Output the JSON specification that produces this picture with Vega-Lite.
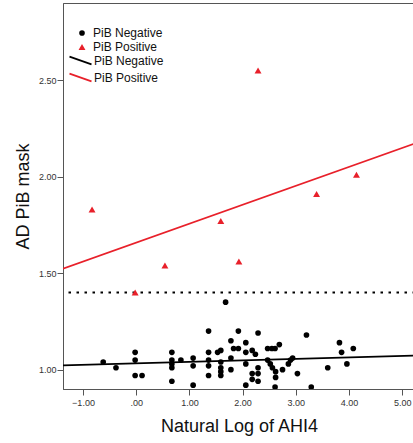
{
  "$schema": "https://vega.github.io/schema/vega-lite/v6.json",
  "width": 352,
  "height": 386,
  "autosize": {"type": "none"},
  "padding": {"left": 63, "top": 3, "right": 0, "bottom": 54},
  "background": "white",
  "config": {
    "font": "Liberation Sans",
    "view": {"stroke": "#555", "strokeWidth": 1},
    "axis": {"grid": false, "domainColor": "#555", "tickColor": "#555", "tickSize": 6, "labelFontSize": 9, "labelColor": "#333", "titleFontSize": 18, "titleFontWeight": "normal", "titleColor": "#111", "labelFont": "Liberation Sans", "titleFont": "Liberation Sans"},
    "legend": {"labelFontSize": 12, "labelColor": "#111", "labelFont": "Liberation Sans", "padding": 0, "rowPadding": 2}
  },
  "datasets": {
    "points": [
      {"lnAHI4": -0.62, "pib": 1.04, "group": "PiB Negative"},
      {"lnAHI4": -0.38, "pib": 1.01, "group": "PiB Negative"},
      {"lnAHI4": -0.02, "pib": 1.09, "group": "PiB Negative"},
      {"lnAHI4": -0.02, "pib": 1.05, "group": "PiB Negative"},
      {"lnAHI4": -0.02, "pib": 0.97, "group": "PiB Negative"},
      {"lnAHI4": 0.11, "pib": 0.97, "group": "PiB Negative"},
      {"lnAHI4": 0.67, "pib": 1.09, "group": "PiB Negative"},
      {"lnAHI4": 0.67, "pib": 1.05, "group": "PiB Negative"},
      {"lnAHI4": 0.67, "pib": 1.03, "group": "PiB Negative"},
      {"lnAHI4": 0.67, "pib": 1.01, "group": "PiB Negative"},
      {"lnAHI4": 0.67, "pib": 0.94, "group": "PiB Negative"},
      {"lnAHI4": 0.84, "pib": 1.05, "group": "PiB Negative"},
      {"lnAHI4": 1.07, "pib": 1.06, "group": "PiB Negative"},
      {"lnAHI4": 1.07, "pib": 1.02, "group": "PiB Negative"},
      {"lnAHI4": 1.07, "pib": 0.92, "group": "PiB Negative"},
      {"lnAHI4": 1.36, "pib": 1.20, "group": "PiB Negative"},
      {"lnAHI4": 1.36, "pib": 1.09, "group": "PiB Negative"},
      {"lnAHI4": 1.36, "pib": 1.05, "group": "PiB Negative"},
      {"lnAHI4": 1.36, "pib": 1.02, "group": "PiB Negative"},
      {"lnAHI4": 1.36, "pib": 0.97, "group": "PiB Negative"},
      {"lnAHI4": 1.53, "pib": 1.09, "group": "PiB Negative"},
      {"lnAHI4": 1.59, "pib": 1.10, "group": "PiB Negative"},
      {"lnAHI4": 1.59, "pib": 1.04, "group": "PiB Negative"},
      {"lnAHI4": 1.59, "pib": 1.01, "group": "PiB Negative"},
      {"lnAHI4": 1.59, "pib": 0.99, "group": "PiB Negative"},
      {"lnAHI4": 1.59, "pib": 0.97, "group": "PiB Negative"},
      {"lnAHI4": 1.68, "pib": 1.35, "group": "PiB Negative"},
      {"lnAHI4": 1.78, "pib": 1.15, "group": "PiB Negative"},
      {"lnAHI4": 1.78, "pib": 1.06, "group": "PiB Negative"},
      {"lnAHI4": 1.78, "pib": 1.00, "group": "PiB Negative"},
      {"lnAHI4": 1.83, "pib": 1.11, "group": "PiB Negative"},
      {"lnAHI4": 1.92, "pib": 1.11, "group": "PiB Negative"},
      {"lnAHI4": 1.92, "pib": 1.20, "group": "PiB Negative"},
      {"lnAHI4": 2.06, "pib": 1.14, "group": "PiB Negative"},
      {"lnAHI4": 2.06, "pib": 1.09, "group": "PiB Negative"},
      {"lnAHI4": 2.06, "pib": 1.03, "group": "PiB Negative"},
      {"lnAHI4": 2.06, "pib": 0.92, "group": "PiB Negative"},
      {"lnAHI4": 2.18, "pib": 1.10, "group": "PiB Negative"},
      {"lnAHI4": 2.24, "pib": 1.08, "group": "PiB Negative"},
      {"lnAHI4": 2.18, "pib": 0.98, "group": "PiB Negative"},
      {"lnAHI4": 2.18, "pib": 0.95, "group": "PiB Negative"},
      {"lnAHI4": 2.29, "pib": 1.19, "group": "PiB Negative"},
      {"lnAHI4": 2.29, "pib": 1.01, "group": "PiB Negative"},
      {"lnAHI4": 2.29, "pib": 0.98, "group": "PiB Negative"},
      {"lnAHI4": 2.29, "pib": 0.94, "group": "PiB Negative"},
      {"lnAHI4": 2.47, "pib": 1.11, "group": "PiB Negative"},
      {"lnAHI4": 2.55, "pib": 1.11, "group": "PiB Negative"},
      {"lnAHI4": 2.61, "pib": 1.11, "group": "PiB Negative"},
      {"lnAHI4": 2.69, "pib": 1.13, "group": "PiB Negative"},
      {"lnAHI4": 2.47, "pib": 1.05, "group": "PiB Negative"},
      {"lnAHI4": 2.52, "pib": 1.03, "group": "PiB Negative"},
      {"lnAHI4": 2.56, "pib": 1.01, "group": "PiB Negative"},
      {"lnAHI4": 2.62, "pib": 0.99, "group": "PiB Negative"},
      {"lnAHI4": 2.62, "pib": 0.96, "group": "PiB Negative"},
      {"lnAHI4": 2.61, "pib": 0.91, "group": "PiB Negative"},
      {"lnAHI4": 2.75, "pib": 1.00, "group": "PiB Negative"},
      {"lnAHI4": 2.86, "pib": 1.03, "group": "PiB Negative"},
      {"lnAHI4": 2.90, "pib": 1.05, "group": "PiB Negative"},
      {"lnAHI4": 2.94, "pib": 1.06, "group": "PiB Negative"},
      {"lnAHI4": 3.03, "pib": 0.98, "group": "PiB Negative"},
      {"lnAHI4": 3.20, "pib": 1.18, "group": "PiB Negative"},
      {"lnAHI4": 3.29, "pib": 0.91, "group": "PiB Negative"},
      {"lnAHI4": 3.60, "pib": 1.01, "group": "PiB Negative"},
      {"lnAHI4": 3.82, "pib": 1.14, "group": "PiB Negative"},
      {"lnAHI4": 3.86, "pib": 1.09, "group": "PiB Negative"},
      {"lnAHI4": 3.96, "pib": 1.03, "group": "PiB Negative"},
      {"lnAHI4": 4.08, "pib": 1.11, "group": "PiB Negative"},
      {"lnAHI4": -0.83, "pib": 1.83, "group": "PiB Positive"},
      {"lnAHI4": -0.02, "pib": 1.40, "group": "PiB Positive"},
      {"lnAHI4": 0.54, "pib": 1.54, "group": "PiB Positive"},
      {"lnAHI4": 1.59, "pib": 1.77, "group": "PiB Positive"},
      {"lnAHI4": 1.93, "pib": 1.56, "group": "PiB Positive"},
      {"lnAHI4": 2.29, "pib": 2.55, "group": "PiB Positive"},
      {"lnAHI4": 3.39, "pib": 1.91, "group": "PiB Positive"},
      {"lnAHI4": 4.14, "pib": 2.01, "group": "PiB Positive"}
    ],
    "fits": [
      {"lnAHI4": -1.376, "pib": 1.0225, "group": "PiB Negative"},
      {"lnAHI4": 5.24, "pib": 1.073, "group": "PiB Negative"},
      {"lnAHI4": -1.376, "pib": 1.523, "group": "PiB Positive"},
      {"lnAHI4": 5.24, "pib": 2.172, "group": "PiB Positive"}
    ],
    "threshold": [
      {"pib": 1.4}
    ]
  },
  "layer": [
    {
      "data": {"name": "threshold"},
      "mark": {"type": "rule", "strokeDash": [2.5, 5.5], "strokeWidth": 2, "color": "#000"},
      "encoding": {"y": {"field": "pib", "type": "quantitative"}}
    },
    {
      "data": {"name": "fits"},
      "mark": {"type": "line", "clip": true, "strokeWidth": 1.7},
      "encoding": {
        "x": {"field": "lnAHI4", "type": "quantitative"},
        "y": {"field": "pib", "type": "quantitative"},
        "color": {
          "field": "group", "type": "nominal",
          "scale": {"range": ["#000000", "#e8202a"]},
          "legend": {"title": null, "orient": "none", "legendX": 11, "legendY": 51, "symbolType": "M-2,-0.7L2,0.7", "symbolSize": 121, "symbolStrokeWidth": 1.7, "labelOffset": 7}
        }
      }
    },
    {
      "data": {"name": "points"},
      "mark": {"type": "point", "filled": true, "opacity": 1, "clip": true},
      "encoding": {
        "x": {
          "field": "lnAHI4", "type": "quantitative",
          "scale": {"domain": [-1.376, 5.24], "nice": false, "zero": false},
          "axis": {"values": [-1, 0, 1, 2, 3, 4, 5], "labelExpr": "datum.value == 0 ? '.00' : format(datum.value, '.2f')", "title": "Natural Log of AHI4", "titlePadding": 10, "labelPadding": 3}
        },
        "y": {
          "field": "pib", "type": "quantitative",
          "scale": {"domain": [0.9, 2.9], "nice": false, "zero": false},
          "axis": {"values": [1, 1.5, 2, 2.5], "format": ".2f", "title": "AD PiB mask", "titlePadding": 6, "labelPadding": 1}
        },
        "shape": {
          "field": "group", "type": "nominal",
          "scale": {"domain": ["PiB Negative", "PiB Positive"], "range": ["circle", "triangle-up"]},
          "legend": {"title": null, "orient": "none", "legendX": 13, "legendY": 24, "labelOffset": 5}
        },
        "fill": {
          "field": "group", "type": "nominal",
          "scale": {"domain": ["PiB Negative", "PiB Positive"], "range": ["#000000", "#e8202a"]},
          "legend": {"title": null, "orient": "none", "legendX": 13, "legendY": 24, "labelOffset": 5}
        },
        "size": {
          "field": "group", "type": "nominal",
          "scale": {"domain": ["PiB Negative", "PiB Positive"], "range": [32, 48]},
          "legend": {"title": null, "orient": "none", "legendX": 13, "legendY": 24, "labelOffset": 5}
        }
      }
    }
  ]
}
